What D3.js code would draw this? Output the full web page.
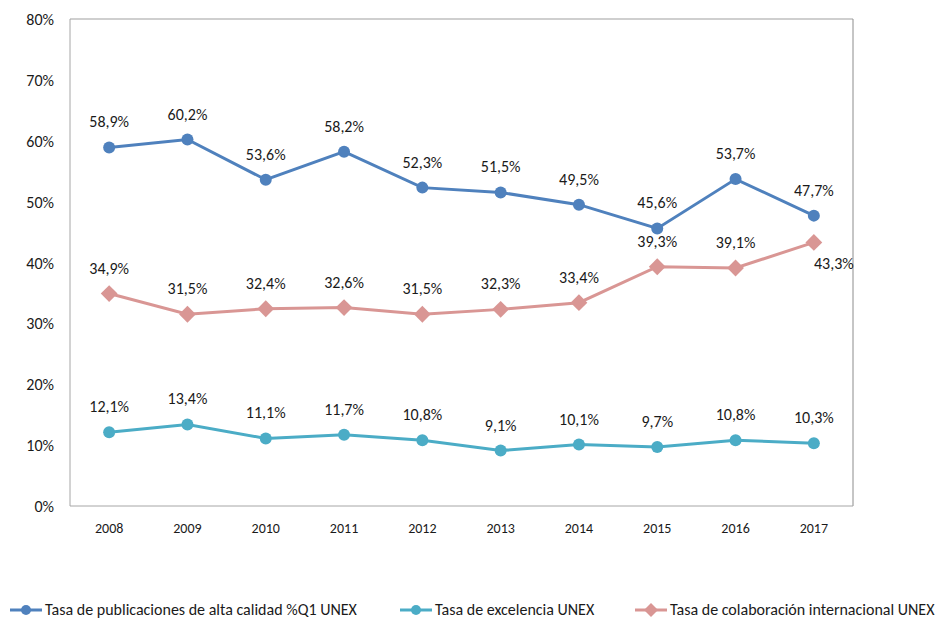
<!DOCTYPE html>
<html>
<head>
<meta charset="utf-8">
<script src="https://cdn.jsdelivr.net/npm/d3@7"></script>
<style>
  body { margin: 0; background: #fff; }
  svg text { font-family: "Carlito", "Liberation Sans Narrow", "Open Sans", sans-serif; fill: #1a1a1a; }
</style>
</head>
<body>
<div id="chart"></div>
<script>
// data
var years = ["2008", "2009", "2010", "2011", "2012", "2013", "2014", "2015", "2016", "2017"];
var q1Rate = [58.9, 60.2, 53.6, 58.2, 52.3, 51.5, 49.5, 45.6, 53.7, 47.7];
var excelRate = [12.1, 13.4, 11.1, 11.7, 10.8, 9.1, 10.1, 9.7, 10.8, 10.3];
var intlRate = [34.9, 31.5, 32.4, 32.6, 31.5, 32.3, 33.4, 39.3, 39.1, 43.3];
var yTicks = [0, 10, 20, 30, 40, 50, 60, 70, 80];

var seriesNames = ["Tasa de publicaciones de alta calidad %Q1 UNEX", "Tasa de excelencia UNEX", "Tasa de colaboración internacional UNEX"];

var width = 937, height = 620;
var plotLeft = 70, plotRight = 853, plotTop = 19, plotBottom = 506;

var svg = d3.select("#chart").append("svg")
    .attr("width", width)
    .attr("height", height);

var x = d3.scaleBand().domain(years).range([plotLeft, plotRight]);
var y = d3.scaleLinear().domain([0, 80]).range([plotBottom, plotTop]);

function fmt(v) { return v.toFixed(1).replace(".", ",") + "%"; }

// frame
svg.append("line").attr("x1", plotLeft).attr("x2", plotRight).attr("y1", plotTop).attr("y2", plotTop)
    .style("stroke", "#bfbfbf").style("stroke-width", 1.5);
svg.append("line").attr("x1", plotRight).attr("x2", plotRight).attr("y1", plotTop).attr("y2", plotBottom)
    .style("stroke", "#8c8c8c").style("stroke-width", 1);
svg.append("line").attr("x1", plotLeft).attr("x2", plotLeft).attr("y1", plotTop).attr("y2", plotBottom)
    .style("stroke", "#a6a6a6").style("stroke-width", 1);
svg.append("line").attr("x1", plotLeft).attr("x2", plotRight).attr("y1", plotBottom).attr("y2", plotBottom)
    .style("stroke", "#a6a6a6").style("stroke-width", 1);

// y axis labels
svg.selectAll(".ytick").data(yTicks).enter().append("text")
    .attr("x", 54)
    .attr("y", function(d) { return y(d) + 6; })
    .attr("text-anchor", "end")
    .style("font-size", "16px")
    .text(function(d) { return d + "%"; });

// x axis labels
svg.selectAll(".xtick").data(years).enter().append("text")
    .attr("x", function(d) { return x(d) + x.bandwidth() / 2; })
    .attr("y", 533)
    .attr("text-anchor", "middle")
    .style("font-size", "14px")
    .text(function(d) { return d; });

var series = [
    { name: seriesNames[0], values: q1Rate, color: "#4f81bd", marker: "circle" },
    { name: seriesNames[1], values: excelRate, color: "#4bacc6", marker: "circle" },
    { name: seriesNames[2], values: intlRate, color: "#d99694", marker: "diamond" }
];

var line = d3.line()
    .x(function(d, i) { return x(years[i]) + x.bandwidth() / 2; })
    .y(function(d) { return y(d); });

function drawMarker(g, type, cx, cy, color, size) {
    if (type == "circle") {
        g.append("circle").attr("cx", cx).attr("cy", cy).attr("r", size)
            .style("fill", color);
    } else {
        var s = size * 1.4;
        g.append("path")
            .attr("d", "M" + cx + "," + (cy - s) + "L" + (cx + s) + "," + cy + "L" + cx + "," + (cy + s) + "L" + (cx - s) + "," + cy + "Z")
            .style("fill", color);
    }
}

series.forEach(function(s, si) {
    var g = svg.append("g");
    g.append("path")
        .datum(s.values)
        .attr("d", line)
        .style("fill", "none")
        .style("stroke", s.color)
        .style("stroke-width", 3);
    s.values.forEach(function(v, i) {
        var cx = x(years[i]) + x.bandwidth() / 2;
        drawMarker(g, s.marker, cx, y(v), s.color, 6);
        var lx = cx, ly = y(v) - 20;
        // last point of international series is labelled below-right
        if (si == 2 && i == years.length - 1) { lx = cx + 20; ly = y(v) + 27; }
        g.append("text")
            .attr("x", lx)
            .attr("y", ly)
            .attr("text-anchor", "middle")
            .style("font-size", "16px")
            .text(fmt(v));
    });
});

// legend
var legendX = [10, 400, 635];
series.forEach(function(s, i) {
    var lg = svg.append("g").attr("transform", "translate(" + legendX[i] + ",610)");
    lg.append("line").attr("x1", 0).attr("x2", 32).attr("y1", 0).attr("y2", 0)
        .style("stroke", s.color).style("stroke-width", 3);
    drawMarker(lg, s.marker, 16, 0, s.color, 5);
    lg.append("text")
        .attr("x", 35)
        .attr("y", 5)
        .style("font-size", "16px")
        .text(s.name);
});
</script>
</body>
</html>
